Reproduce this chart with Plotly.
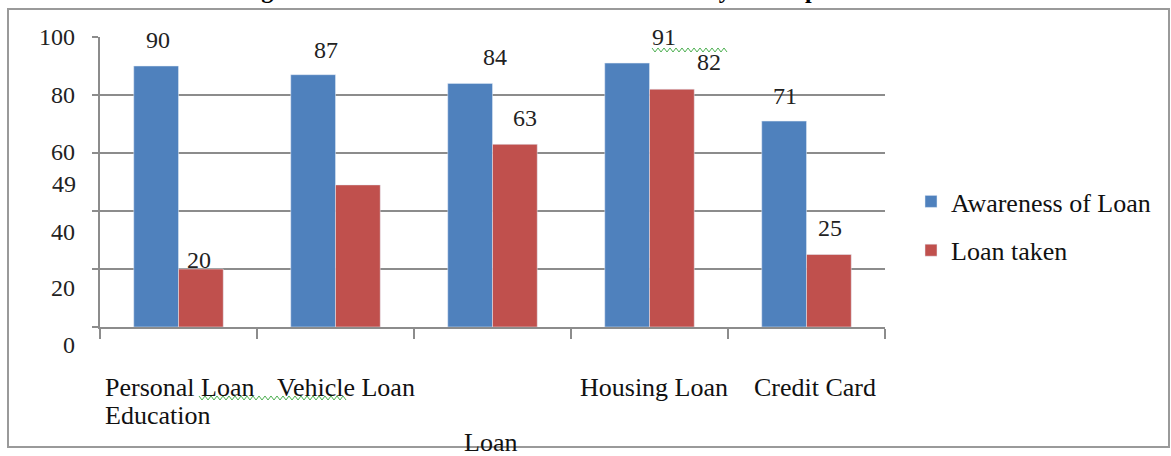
import plotly.graph_objects as go

# ---------------- data ----------------
categories = ["Personal Loan", "Vehicle Loan", "Education Loan", "Housing Loan", "Credit Card"]
awareness = [90, 87, 84, 91, 71]
loan_taken = [20, 49, 63, 82, 25]
series_names = ["Awareness of Loan", "Loan taken"]
y_ticks = [0, 20, 40, 60, 80, 100]
y_tick_text = ["0", "20", "40", "60", "80", "100"]
x_title = "Loan"
title_text = "Figure 4: Awareness of Loan and Loan taken by the respondents"

# ---------------- style ----------------
W, H = 1171, 456
ML, MR, MT, MB = 100, 286, 37, 129
PW, PH = W - ML - MR, H - MT - MB
BLUE, RED = "#4F81BD", "#C0504D"
GRID = "#8c8c8c"
FONT = "Liberation Serif"
NUM_SIZE = 24
TXT_SIZE = 26
LEG_SIZE = 26


def px_x(p):
    return (p - ML) / PW


def px_y(p):
    return (H - MB - p) / PH


def squiggle(x0, x1, y, amp=2.0, step=3.0):
    pts = []
    x, k = x0, 0
    while x <= x1:
        yy = y + (amp if k % 2 else -amp)
        pts.append(f"{px_x(x):.5f},{px_y(yy):.5f}")
        x += step
        k += 1
    return "M " + " L ".join(pts)


fig = go.Figure()
fig.add_trace(go.Bar(x=categories, y=awareness, name=series_names[0],
                     marker_color=BLUE, legendgroup="a"))
fig.add_trace(go.Bar(x=categories, y=loan_taken, name=series_names[1],
                     marker_color=RED, legendgroup="b"))

ann = []
# data labels (scan has them drifted; shifts in pixels)
blue_shift = [(2, 26), (13, 25), (25, 26), (37, 26), (1, 25)]
red_shift = [(-2, 9), (-294, 1), (10, 26), (37, 27), (1, 27)]
bar_off = 22.4
for c, v, (dx, dy) in zip(categories, awareness, blue_shift):
    ann.append(dict(x=c, y=v, xref="x", yref="y", text=str(v), showarrow=False,
                    xshift=-bar_off + dx, yshift=dy, yanchor="middle",
                    font=dict(family=FONT, size=NUM_SIZE, color="#222")))
for c, v, (dx, dy) in zip(categories, loan_taken, red_shift):
    ann.append(dict(x=c, y=v, xref="x", yref="y", text=str(v), showarrow=False,
                    xshift=bar_off + dx, yshift=dy, yanchor="middle",
                    font=dict(family=FONT, size=NUM_SIZE, color="#222")))

# y tick labels (drifted in the scan)
tick_dy = [-18, -19, -21, 1, 0, 0]
for v, t, dy in zip(y_ticks, y_tick_text, tick_dy):
    ann.append(dict(x=0, y=v, xref="paper", yref="y", text=t, showarrow=False,
                    xanchor="right", xshift=-23, yshift=dy, yanchor="middle",
                    font=dict(family=FONT, size=NUM_SIZE, color="#222")))

# category labels as they appear in the scan
cat_labels = [
    ("Personal Loan", categories[0], -75.5, -60),
    ("Vehicle Loan", categories[1], -61, -60),
    ("Education", categories[2], -389.5, -88),
    ("Housing Loan", categories[3], -71.5, -60),
    ("Credit Card", categories[4], -54.5, -60),
]
for t, c, dx, dy in cat_labels:
    ann.append(dict(x=c, y=0, xref="x", yref="paper", text=t, showarrow=False,
                    xanchor="left", xshift=dx, yshift=dy, yanchor="middle",
                    font=dict(family=FONT, size=TXT_SIZE, color="#111")))
ann.append(dict(x=categories[2], y=0, xref="x", yref="paper", text=x_title,
                showarrow=False, xshift=-2, yshift=-115, yanchor="middle",
                font=dict(family=FONT, size=TXT_SIZE, color="#111")))

# title, cut off at the top of the scan (only descenders visible)
ann.append(dict(x=px_x(569), y=px_y(5), xref="paper", yref="paper",
                text="<b>" + title_text + "</b>", showarrow=False,
                xanchor="center", yanchor="bottom",
                font=dict(family=FONT, size=24, color="#000")))

shapes = [dict(type="rect", xref="paper", yref="paper",
               x0=px_x(8), x1=px_x(1169), y0=px_y(447), y1=px_y(9),
               line=dict(color="#9a9a9a", width=2), layer="below")]
# spell-check squiggles visible in the scanned document
for (sx0, sx1, sy) in [(652, 727, 50), (199, 346, 398)]:
    shapes.append(dict(type="path", xref="paper", yref="paper",
                       path=squiggle(sx0, sx1, sy),
                       line=dict(color="#4caf50", width=1)))

fig.update_layout(
    width=W, height=H,
    margin=dict(l=ML, r=MR, t=MT, b=MB, pad=0),
    paper_bgcolor="white", plot_bgcolor="white",
    barmode="group", bargap=0.43, bargroupgap=0,
    annotations=ann,
    showlegend=True,
    legend=dict(x=px_x(911), y=px_y(226), xanchor="left", yanchor="middle",
                font=dict(family=FONT, size=LEG_SIZE, color="#111"),
                tracegroupgap=12, itemwidth=30, bgcolor="rgba(0,0,0,0)"),
    shapes=shapes,
)
fig.update_xaxes(type="category", range=[-0.5, len(categories) - 0.5],
                 autorange=False, showticklabels=False, showline=True,
                 linecolor=GRID, linewidth=1.5, ticks="outside", ticklen=10,
                 tickcolor=GRID, tickwidth=1.5, tickson="boundaries",
                 showgrid=False, zeroline=False)
fig.update_yaxes(range=[0, 100], autorange=False, tickvals=y_ticks,
                 showticklabels=False, showline=True, linecolor=GRID,
                 linewidth=1.5, ticks="outside", ticklen=6, tickcolor=GRID,
                 tickwidth=1.5, showgrid=True, gridcolor=GRID, gridwidth=1.5,
                 zeroline=False)

fig.write_html("out.html", config={"displayModeBar": False},
               post_script="document.body.style.margin='0';")
